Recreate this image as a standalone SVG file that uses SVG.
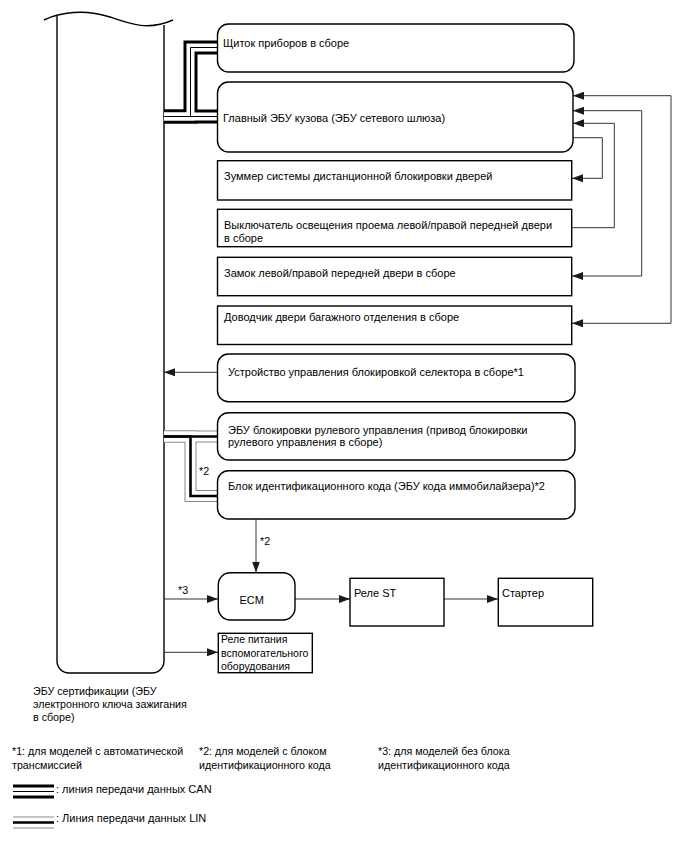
<svg xmlns="http://www.w3.org/2000/svg" width="688" height="852" viewBox="0 0 688 852">
<defs>
<marker id="ah" markerUnits="userSpaceOnUse" markerWidth="11" markerHeight="8" refX="11" refY="4" orient="auto-start-reverse"><path d="M0,0 L11,4 L0,8 z" fill="#1a1a1a"/></marker>
</defs>
<style>
text{font-family:"Liberation Sans",Arial,sans-serif;font-size:11px;fill:#000}
.box{fill:#fff;stroke:#000;stroke-width:1.4}
.ecu{fill:none;stroke:#000;stroke-width:1.4}
.arr{fill:none;stroke:#333;stroke-width:1}
.canO{fill:none;stroke:#000;stroke-width:14}
.canW{fill:none;stroke:#fff;stroke-width:8}
.canC{fill:none;stroke:#000;stroke-width:1}
.linO{fill:none;stroke:#8a8a8a;stroke-width:12}
.linW{fill:none;stroke:#fff;stroke-width:10}
.linC{fill:none;stroke:#000;stroke-width:2.6}
.sm{font-size:10.5px}
.nt{font-size:10.7px}
</style>
<rect width="688" height="852" fill="#fff"/>

<g id="ecu-cert">
<path class="ecu" d="M57,16 V661 A12,12 0 0 0 69,673 H152 A12,12 0 0 0 164,661 V25"/>
<path class="ecu" d="M44,20 C60,12 85,9 110,17 C130,24 148,31 173,20"/>
<text class="nt" x="33" y="694.5">ЭБУ сертификации (ЭБУ</text>
<text class="nt" x="33" y="707.5">электронного ключа зажигания</text>
<text class="nt" x="33" y="720.5">в сборе)</text>
</g>

<g id="connectors">
<path class="canO" d="M164,116.5 H218"/>
<path class="canO" d="M164,116.5 H190.5 V47.5 H218"/>
<path class="canW" d="M164,116.5 H218"/>
<path class="canW" d="M164,116.5 H190.5 V47.5 H218"/>
<path class="canC" d="M164,116.5 H218"/>
<path class="canC" d="M164,116.5 H190.5 V47.5 H218"/>
<path class="linO" d="M164,436.5 H218"/>
<path class="linO" d="M164,436.5 H190.5 V496 H218"/>
<path class="linW" d="M164,436.5 H218"/>
<path class="linW" d="M164,436.5 H190.5 V496 H218"/>
<path class="linC" d="M164,436.5 H218"/>
<path class="linC" d="M164,436.5 H190.5 V496 H218"/>
<text class="nt" x="199" y="475">*2</text>
<path class="arr" d="M573,95.7 H671 V323.3 H572" marker-start="url(#ah)" marker-end="url(#ah)"/>
<path class="arr" d="M573,110.7 H641.7 V276 H572" marker-start="url(#ah)" marker-end="url(#ah)"/>
<path class="arr" d="M572,227.7 H614.3 V123.3 H573" marker-end="url(#ah)"/>
<path class="arr" d="M573,137.7 H602.3 V178.3 H572" marker-end="url(#ah)"/>
<path class="arr" d="M217.5,372.3 H164" marker-end="url(#ah)"/>
<path class="arr" d="M256,519 V572.5" marker-end="url(#ah)"/>
<text class="nt" x="260" y="545">*2</text>
<path class="arr" d="M164,599 H218" marker-end="url(#ah)"/>
<text class="nt" x="178" y="593.5">*3</text>
<path class="arr" d="M295,599 H350" marker-end="url(#ah)"/>
<path class="arr" d="M444,599 H498" marker-end="url(#ah)"/>
<path class="arr" d="M164,652.3 H218" marker-end="url(#ah)"/>
</g>

<g id="combination-meter">
<rect class="box" x="217.5" y="24" width="356.5" height="48" rx="11"/>
<text x="223" y="47">Щиток приборов в сборе</text>
</g>
<g id="main-body-ecu">
<rect class="box" x="217.5" y="82" width="355.5" height="70" rx="11"/>
<text x="223" y="122">Главный ЭБУ кузова (ЭБУ сетевого шлюза)</text>
</g>
<g id="buzzer">
<rect class="box" x="217.5" y="160.7" width="354.2" height="39.3"/>
<text x="224" y="180">Зуммер системы дистанционной блокировки дверей</text>
</g>
<g id="courtesy-switch">
<rect class="box" x="217.5" y="209.3" width="354.2" height="37.4"/>
<text x="224" y="229">Выключатель освещения проема левой/правой передней двери</text>
<text x="224" y="241.5">в сборе</text>
</g>
<g id="door-lock">
<rect class="box" x="217.5" y="257.3" width="354.2" height="38.4"/>
<text x="224" y="276.5">Замок левой/правой передней двери в сборе</text>
</g>
<g id="back-door-closer">
<rect class="box" x="217.5" y="306" width="354.2" height="38.5"/>
<text x="224" y="320.5">Доводчик двери багажного отделения в сборе</text>
</g>
<g id="shift-lock">
<rect class="box" x="217.5" y="354" width="357.5" height="47.7" rx="11"/>
<text x="228" y="376.3">Устройство управления блокировкой селектора в сборе*1</text>
</g>
<g id="steering-lock">
<rect class="box" x="217.5" y="412.7" width="357.5" height="47.3" rx="11"/>
<text x="228" y="434">ЭБУ блокировки рулевого управления (привод блокировки</text>
<text x="228" y="446">рулевого управления в сборе)</text>
</g>
<g id="id-code-box">
<rect class="box" x="217.5" y="470.7" width="357.5" height="48.3" rx="11"/>
<text x="228" y="489.7">Блок идентификационного кода (ЭБУ кода иммобилайзера)*2</text>
</g>
<g id="ecm">
<rect class="box" x="218.3" y="572.7" width="76.7" height="47.3" rx="12"/>
<text x="239.5" y="604">ECM</text>
</g>
<g id="st-relay">
<rect class="box" x="350" y="578.3" width="94" height="47.7"/>
<text x="354" y="597.3">Реле ST</text>
</g>
<g id="starter">
<rect class="box" x="498.3" y="578.3" width="94.4" height="47.7"/>
<text x="502" y="597.3">Стартер</text>
</g>
<g id="acc-relay">
<rect class="box" x="218.3" y="633.3" width="94" height="39.4"/>
<text class="sm" x="221" y="643">Реле питания</text>
<text class="sm" x="221" y="657">вспомогательного</text>
<text class="sm" x="221" y="670">оборудования</text>
</g>

<g id="notes">
<text class="nt" x="12" y="754.5">*1: для моделей с автоматической</text>
<text class="nt" x="12" y="768.5">трансмиссией</text>
<text class="nt" x="199" y="754.5">*2: для моделей с блоком</text>
<text class="nt" x="199" y="768.5">идентификационного кода</text>
<text class="nt" x="378" y="754.5">*3: для моделей без блока</text>
<text class="nt" x="378" y="768.5">идентификационного кода</text>
</g>
<g id="legend">
<path class="canO" d="M13,791.5 H54"/>
<path class="canW" d="M13,791.5 H54"/>
<path class="canC" d="M13,791.5 H54"/>
<text x="56" y="793">: линия передачи данных CAN</text>
<path class="linO" d="M13,822.5 H54"/>
<path class="linW" d="M13,822.5 H54"/>
<path class="linC" d="M13,822.5 H54"/>
<text x="56" y="822">: Линия передачи данных LIN</text>
</g>
</svg>
